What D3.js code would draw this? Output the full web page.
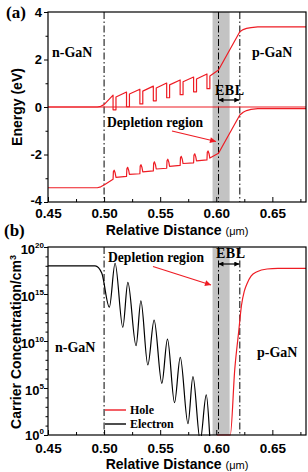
<!DOCTYPE html>
<html><head><meta charset="utf-8">
<script src="https://cdn.jsdelivr.net/npm/d3@7"></script>
<style>body{margin:0;background:#fff}svg{display:block}</style>
</head><body>
<svg id="c" width="308" height="472"></svg>
<script>
// ---------- data ----------
const xMajorTicks = [0.45, 0.50, 0.55, 0.60, 0.65];
const xMinorTicks = [0.475, 0.525, 0.575, 0.625, 0.675];
const energyTicks = [-4, -2, 0, 2, 4];
const energyMinorTicks = [-3, -1, 1, 3];
const concExpTicks = [0, 5, 10, 15, 20];
const concExpMinor = [1,2,3,4,6,7,8,9,11,12,13,14,16,17,18,19];
const regionLines = [0.50, 0.602, 0.621];
const eblBand = [0.5967, 0.6119];
const eblArrow = [0.6015, 0.621];

// conduction band (eV)
const cbLeadX = [0.45, 0.494, 0.497, 0.500];
const cbLeadE = [0, 0, 0.03, 0.10];
const qwX = [0.5080, 0.5200, 0.5319, 0.5439, 0.5558, 0.5678, 0.5798, 0.5917];
const qwWidth = 0.0026;
const cbPeak  = [0.50, 0.63, 0.75, 0.88, 1.01, 1.14, 1.26, 1.39];
const cbWell  = [-0.12, 0.01, 0.13, 0.26, 0.39, 0.52, 0.64, 0.77];
const cbAfter = [0.42, 0.55, 0.67, 0.80, 0.93, 1.06, 1.18, 1.31];
const cbTailX = [0.602, 0.621, 0.624, 0.627, 0.631, 0.637, 0.68];
const cbTailE = [1.56, 3.17, 3.26, 3.31, 3.34, 3.37, 3.37];

// valence band (eV)
const vbLeadX = [0.45, 0.494, 0.497, 0.500];
const vbLeadE = [-3.40, -3.40, -3.36, -3.28];
const vbBase  = [-3.04, -2.92, -2.81, -2.69, -2.58, -2.46, -2.35, -2.23];
const vbTop   = [-2.66, -2.54, -2.43, -2.31, -2.20, -2.08, -1.97, -1.85];
const vbAfter = [-2.96, -2.84, -2.73, -2.61, -2.50, -2.38, -2.27, -2.15];
const vbTailX = [0.602, 0.621, 0.624, 0.627, 0.631, 0.637, 0.68];
const vbTailE = [-1.95, -0.34, -0.22, -0.15, -0.10, -0.07, -0.07];

// Fermi level
const fermiX = [0.45, 0.68];
const fermiE = [0, 0];

// carrier concentrations (log10 of cm^-3)
const elecX   = [0.45, 0.492, 0.495, 0.498, 0.5047, 0.5098, 0.5167, 0.5212, 0.5285, 0.5328, 0.5390, 0.5446, 0.5515, 0.5565, 0.5628, 0.5679, 0.5748, 0.5792, 0.5857, 0.5911, 0.5965, 0.600];
const elecLog = [18.0, 18.0, 17.8, 17.2, 13.6, 18.27, 11.46, 16.24, 9.5, 14.26, 7.45, 12.23, 5.5, 10.21, 3.44, 8.26, 1.2, 6.2, -0.6, 4.26, -3, -3];
const holeX   = [0.6006, 0.6125, 0.6165, 0.6200, 0.6225, 0.6250, 0.6274, 0.6310, 0.6363, 0.6453, 0.655, 0.68];
const holeLog = [0, 0, 7.0, 11.0, 13.8, 15.3, 16.1, 16.9, 17.37, 17.66, 17.72, 17.73];

// ---------- drawing ----------
const svg = d3.select("#c");
const RED = "#ee1c24";
const serif = "'Liberation Serif','Times New Roman',serif";
const sans = "'Liberation Sans',Arial,sans-serif";

const x = d3.scaleLinear().domain([0.45, 0.68]).range([48, 306]);
const yA = d3.scaleLinear().domain([-4, 4]).range([202, 12]);
const yB = d3.scaleLog().domain([1, 1e20]).range([435, 247]);

const defs = svg.append("defs");
function marker(id, color, w, h) {
  defs.append("marker").attr("id", id).attr("viewBox", "0 0 10 10")
    .attr("refX", 10).attr("refY", 5).attr("markerWidth", w).attr("markerHeight", h)
    .attr("markerUnits", "userSpaceOnUse").attr("orient", "auto-start-reverse")
    .append("path").attr("d", "M0,0 L10,5 L0,10 Z").attr("fill", color);
}
marker("arrK", "#000", 6, 5);
marker("arrR", RED, 8, 6);
defs.append("clipPath").attr("id", "clipB").append("rect")
  .attr("x", 48).attr("y", 247).attr("width", 258).attr("height", 189);

function panel(y, top, bottom) {
  const g = svg.append("g");
  g.append("rect").attr("x", x(eblBand[0])).attr("y", top)
    .attr("width", x(eblBand[1]) - x(eblBand[0])).attr("height", bottom - top)
    .attr("fill", "#c3c3c3");
  g.selectAll(".rl").data(regionLines).enter().append("line")
    .attr("x1", d => x(d)).attr("x2", d => x(d)).attr("y1", top).attr("y2", bottom)
    .attr("stroke", "#000").attr("stroke-width", 1).attr("stroke-dasharray", "7,2.5,1.5,2.5");
  return g;
}

function axes(y, top, bottom, labelOffset) {
  const g = svg.append("g");
  const xa = g.append("g").attr("transform", `translate(0,${bottom})`)
    .call(d3.axisBottom(x).tickValues(xMajorTicks).tickFormat(d3.format(".2f"))
      .tickSizeInner(-5).tickSizeOuter(0).tickPadding(0));
  xa.selectAll("text").attr("y", labelOffset).attr("dy", null)
    .style("font-family", sans).style("font-weight", "bold").style("font-size", "13.5px");
  g.append("g").attr("transform", `translate(0,${bottom})`)
    .call(d3.axisBottom(x).tickValues(xMinorTicks).tickFormat("").tickSizeInner(-3).tickSizeOuter(0));
  g.append("rect").attr("x", 48).attr("y", top).attr("width", 258).attr("height", bottom - top)
    .attr("fill", "none").attr("stroke", "#000").attr("stroke-width", 1.2);
  g.selectAll(".domain").remove();
  g.selectAll("line").attr("stroke", "#000");
  return g;
}

// ===== Panel (a) =====
panel(yA, 12, 202);
const lineA = d3.line().x(d => x(d[0])).y(d => yA(d[1]));
const cbPts = [];
cbLeadX.forEach((v, i) => cbPts.push([v, cbLeadE[i]]));
qwX.forEach((v, i) => {
  cbPts.push([v, cbPeak[i]], [v, cbWell[i]], [v + qwWidth, cbWell[i]], [v + qwWidth, cbAfter[i]]);
});
cbTailX.forEach((v, i) => cbPts.push([v, cbTailE[i]]));
const vbPts = [];
vbLeadX.forEach((v, i) => vbPts.push([v, vbLeadE[i]]));
qwX.forEach((v, i) => {
  vbPts.push([v, vbBase[i]], [v + 0.0003, vbTop[i] - 0.06], [v + 0.0010, vbTop[i]],
             [v + 0.0019, vbTop[i] - 0.12], [v + qwWidth, vbAfter[i]]);
});
vbTailX.forEach((v, i) => vbPts.push([v, vbTailE[i]]));
const fPts = fermiX.map((v, i) => [v, fermiE[i]]);
const gA = svg.append("g");
[fPts, cbPts, vbPts].forEach(p => gA.append("path").attr("d", lineA(p))
  .attr("fill", "none").attr("stroke", RED).attr("stroke-width", 1.2).attr("stroke-linejoin", "round"));

const axA = axes(yA, 12, 202, 15.5);
const ya = axA.append("g").attr("transform", "translate(48,0)")
  .call(d3.axisLeft(yA).tickValues(energyTicks).tickFormat(d3.format("d")).tickSizeInner(4).tickSizeOuter(0).tickPadding(2));
ya.selectAll("text").style("font-family", sans).style("font-weight", "bold").style("font-size", "13px")
  .attr("dy", d => d === -4 ? "0.2em" : "0.32em")
  .text(d => d < 0 ? "-" + Math.abs(d) : d);
ya.select(".domain").remove();
axA.append("g").attr("transform", "translate(48,0)")
  .call(d3.axisLeft(yA).tickValues(energyMinorTicks).tickFormat("").tickSizeInner(2.5).tickSizeOuter(0))
  .select(".domain").remove();

function txt(t, xx, yy, opts = {}) {
  return svg.append("text").attr("x", xx).attr("y", yy).text(t)
    .style("font-family", opts.font || serif).style("font-weight", "bold")
    .style("font-size", (opts.size || 14) + "px").attr("text-anchor", opts.anchor || "start")
    .attr("fill", opts.fill || "#000");
}
txt("(a)", 6, 18, {size: 17});
txt("n-GaN", 52, 57);
txt("p-GaN", 252, 57);
txt("EBL", 215, 95, {size: 14}).attr("letter-spacing", "0.5px");
txt("Depletion region", 107, 127, {size: 13.6});
svg.append("line").attr("x1", x(eblArrow[0]) + 0.5).attr("x2", x(eblArrow[1]) - 0.5).attr("y1", 100).attr("y2", 100)
  .attr("stroke", "#000").attr("stroke-width", 1.2).attr("marker-end", "url(#arrK)").attr("marker-start", "url(#arrK)");
svg.append("line").attr("x1", 172).attr("y1", 131).attr("x2", 216).attr("y2", 141.5)
  .attr("stroke", RED).attr("stroke-width", 1.2).attr("marker-end", "url(#arrR)");
svg.append("text").attr("transform", "translate(22,107) rotate(-90)").attr("text-anchor", "middle")
  .style("font-family", sans).style("font-weight", "bold").style("font-size", "14px").text("Energy (eV)");
const xtA = svg.append("text").attr("x", 177).attr("y", 235).attr("text-anchor", "middle")
  .style("font-family", sans).style("font-weight", "bold").style("font-size", "14px");
xtA.append("tspan").text("Relative Distance ");
xtA.append("tspan").style("font-size", "11px").style("font-weight", "normal").text("(μm)");

// ===== Panel (b) =====
panel(yB, 247, 435);
const lineB = d3.line().x(d => x(d[0])).y(d => yB(Math.pow(10, d[1]))).curve(d3.curveMonotoneX);
const gB = svg.append("g").attr("clip-path", "url(#clipB)");
gB.append("path").attr("d", lineB(elecX.map((v, i) => [v, elecLog[i]])))
  .attr("fill", "none").attr("stroke", "#000").attr("stroke-width", 1.2);
gB.append("path").attr("d", lineB(holeX.map((v, i) => [v, holeLog[i]])))
  .attr("fill", "none").attr("stroke", RED).attr("stroke-width", 1.2);

const axB = axes(yB, 247, 435, 18);
const yb = axB.append("g").attr("transform", "translate(48,0)")
  .call(d3.axisLeft(yB).tickValues(concExpTicks.map(e => Math.pow(10, e))).tickFormat("").tickSizeInner(4).tickSizeOuter(0));
yb.select(".domain").remove();
yb.selectAll(".tick").each(function(d) {
  const e = Math.round(Math.log10(d));
  const t = d3.select(this).append("text").attr("x", -4).attr("y", e === 0 ? 4 : 6.5).attr("text-anchor", "end")
    .attr("fill", "#000").style("font-family", sans).style("font-weight", "bold").style("font-size", "13px");
  t.append("tspan").text("10");
  t.append("tspan").attr("dy", -6).style("font-size", "8px").text(e);
});
axB.append("g").attr("transform", "translate(48,0)")
  .call(d3.axisLeft(yB).tickValues(concExpMinor.map(e => Math.pow(10, e))).tickFormat("").tickSizeInner(2.5).tickSizeOuter(0))
  .select(".domain").remove();
axB.selectAll("line").attr("stroke", "#000");

txt("(b)", 4, 236, {size: 17});
txt("Depletion region", 108, 262, {size: 13.6});
txt("EBL", 216, 258, {size: 14}).attr("letter-spacing", "0.5px");
txt("n-GaN", 55, 352);
txt("p-GaN", 257, 357);
svg.append("line").attr("x1", x(eblArrow[0]) + 0.5).attr("x2", x(eblArrow[1]) - 0.5).attr("y1", 264).attr("y2", 264)
  .attr("stroke", "#000").attr("stroke-width", 1.2).attr("marker-end", "url(#arrK)").attr("marker-start", "url(#arrK)");
svg.append("line").attr("x1", 153).attr("y1", 266.5).attr("x2", 211).attr("y2", 285)
  .attr("stroke", RED).attr("stroke-width", 1.2).attr("marker-end", "url(#arrR)");

// legend
const legendNames = ["Hole", "Electron"];
const legendColors = [RED, "#000"];
legendNames.forEach((n, i) => {
  const ly = 410 + i * 14;
  svg.append("line").attr("x1", 105).attr("x2", 126).attr("y1", ly).attr("y2", ly)
    .attr("stroke", legendColors[i]).attr("stroke-width", 1.4);
  txt(n, 130, ly + 4.3, {size: 12});
});

const yt = svg.append("text").attr("transform", "translate(21,342) rotate(-90)").attr("text-anchor", "middle")
  .style("font-family", sans).style("font-weight", "bold").style("font-size", "14px");
yt.append("tspan").text("Carrier Concentration/cm");
yt.append("tspan").attr("dy", -5).style("font-size", "9px").text("3");
const xtB = svg.append("text").attr("x", 177).attr("y", 469).attr("text-anchor", "middle")
  .style("font-family", sans).style("font-weight", "bold").style("font-size", "14px");
xtB.append("tspan").text("Relative Distance ");
xtB.append("tspan").style("font-size", "11px").style("font-weight", "normal").text("(μm)");
</script>
</body></html>
